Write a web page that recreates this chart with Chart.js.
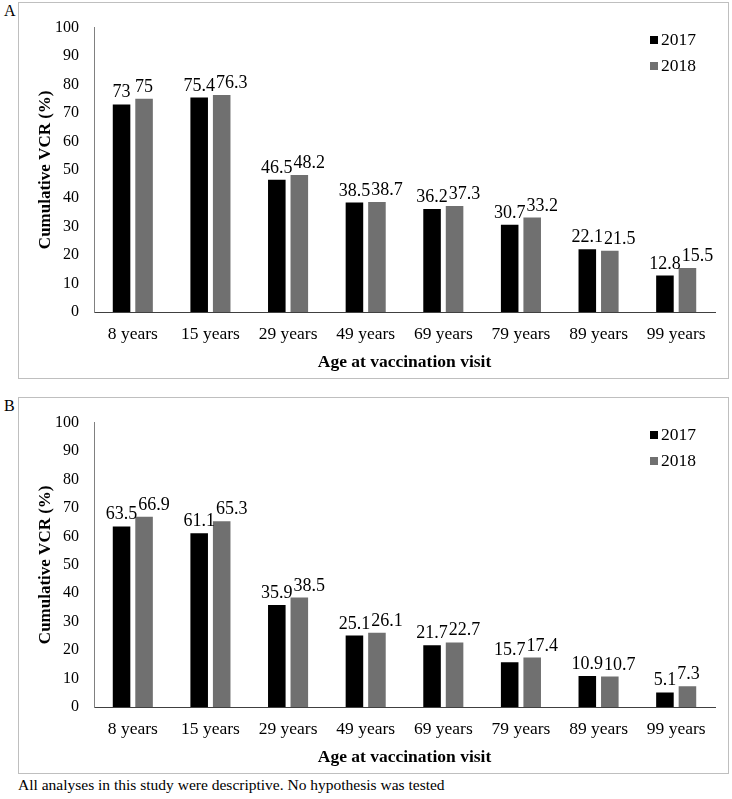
<!DOCTYPE html>
<html>
<head>
<meta charset="utf-8">
<script src="https://cdn.jsdelivr.net/npm/chart.js@4/dist/chart.umd.min.js"></script>
<style>
  body { margin: 0; background: #fff; width: 732px; height: 799px; position: relative; font-family: "Liberation Serif", "Times New Roman", serif; }
  .panel { position: absolute; left: 18px; width: 711px; height: 377px; border: 1px solid #bfbfbf; box-sizing: border-box; }
  .panel canvas { position: absolute; left: 0; top: 0; }
  .letter { position: absolute; left: 4px; font-size: 16px; }
  .note { position: absolute; left: 18px; top: 776px; font-size: 15.5px; }
</style>
</head>
<body>
<div class="letter" style="top:2px">A</div>
<div class="panel" style="top:2px"><canvas id="chartA" width="709" height="375"></canvas></div>
<div class="letter" style="top:397px">B</div>
<div class="panel" style="top:397px"><canvas id="chartB" width="709" height="375"></canvas></div>
<div class="note">All analyses in this study were descriptive. No hypothesis was tested</div>
<script>
const categories = ["8 years", "15 years", "29 years", "49 years", "69 years", "79 years", "89 years", "99 years"];
const seriesNames = ["2017", "2018"];
const a2017 = [73, 75.4, 46.5, 38.5, 36.2, 30.7, 22.1, 12.8];
const a2018 = [75, 76.3, 48.2, 38.7, 37.3, 33.2, 21.5, 15.5];
const b2017 = [63.5, 61.1, 35.9, 25.1, 21.7, 15.7, 10.9, 5.1];
const b2018 = [66.9, 65.3, 38.5, 26.1, 22.7, 17.4, 10.7, 7.3];
const yMin = 0, yMax = 100, yStep = 10;

const FONT = "Liberation Serif";
const colors = ["#000000", "#707070"];

// value labels above each bar; the 2018 label moves right when it would collide with the 2017 one
const barLabels = {
    id: "barLabels",
    afterDatasetsDraw(chart) {
        const ctx = chart.ctx;
        ctx.save();
        ctx.font = "18px '" + FONT + "'";
        ctx.fillStyle = "#000";
        ctx.textAlign = "center";
        ctx.textBaseline = "alphabetic";
        const m0 = chart.getDatasetMeta(0).data;
        const m1 = chart.getDatasetMeta(1).data;
        const d0 = chart.data.datasets[0].data;
        const d1 = chart.data.datasets[1].data;
        m0.forEach((bar0, j) => {
            const bar1 = m1[j];
            const t0 = String(d0[j]), t1 = String(d1[j]);
            const w0 = ctx.measureText(t0).width, w1 = ctx.measureText(t1).width;
            const y0 = bar0.y - 7, y1 = bar1.y - 7;
            let x1 = bar1.x;
            const right0 = bar0.x + w0 / 2;
            if (x1 - w1 / 2 < right0 + 1 && Math.abs(y0 - y1) < 16) {
                x1 = right0 + 1 + w1 / 2;
            }
            ctx.fillText(t0, bar0.x, y0);
            ctx.fillText(t1, x1, y1);
        });
        ctx.restore();
    }
};

// legend in the top right corner of the plot
const cornerLegend = {
    id: "cornerLegend",
    afterDraw(chart) {
        const ctx = chart.ctx;
        ctx.save();
        ctx.font = "17.5px '" + FONT + "'";
        ctx.textBaseline = "middle";
        ctx.textAlign = "left";
        chart.data.datasets.forEach((ds, i) => {
            const y = 37 + i * 26;
            ctx.fillStyle = ds.backgroundColor;
            ctx.fillRect(631, y - 4, 8, 8);
            ctx.fillStyle = "#000";
            ctx.fillText(ds.label, 642, y);
        });
        ctx.restore();
    }
};

function makeChart(id, v2017, v2018) {
    const ctx = document.getElementById(id).getContext("2d");
    return new Chart(ctx, {
        type: "bar",
        data: {
            labels: categories,
            datasets: [
                { label: seriesNames[0], data: v2017, backgroundColor: colors[0] },
                { label: seriesNames[1], data: v2018, backgroundColor: colors[1] }
            ]
        },
        options: {
            responsive: false,
            animation: false,
            layout: { padding: { top: 20, right: 13, left: 0, bottom: 0 } },
            datasets: { bar: { categoryPercentage: 0.58, barPercentage: 0.78 } },
            plugins: { legend: { display: false }, tooltip: { enabled: false } },
            scales: {
                x: {
                    grid: { display: false, drawTicks: false },
                    border: { display: true, color: "#404040", width: 1 },
                    ticks: { color: "#000", padding: 12, font: { family: FONT, size: 17.5 } },
                    title: {
                        display: true,
                        text: "Age at vaccination visit",
                        color: "#000",
                        font: { family: FONT, size: 17.5, weight: "bold", lineHeight: 1.2 },
                        padding: { top: 0, bottom: 5 }
                    },
                    afterFit(scale) { scale.height = 66; }
                },
                y: {
                    min: yMin,
                    max: yMax,
                    grid: { display: false, drawTicks: false },
                    border: { display: true, color: "#808080", width: 1 },
                    ticks: { stepSize: yStep, color: "#000", padding: 15, font: { family: FONT, size: 16 } },
                    title: {
                        display: true,
                        text: "Cumulative VCR (%)",
                        color: "#000",
                        font: { family: FONT, size: 17, weight: "bold", lineHeight: 1.2 },
                        padding: { top: 16, bottom: 0 }
                    },
                    afterFit(scale) { scale.width = 75; }
                }
            }
        },
        plugins: [barLabels, cornerLegend]
    });
}

makeChart("chartA", a2017, a2018);
makeChart("chartB", b2017, b2018);
</script>
</body>
</html>
